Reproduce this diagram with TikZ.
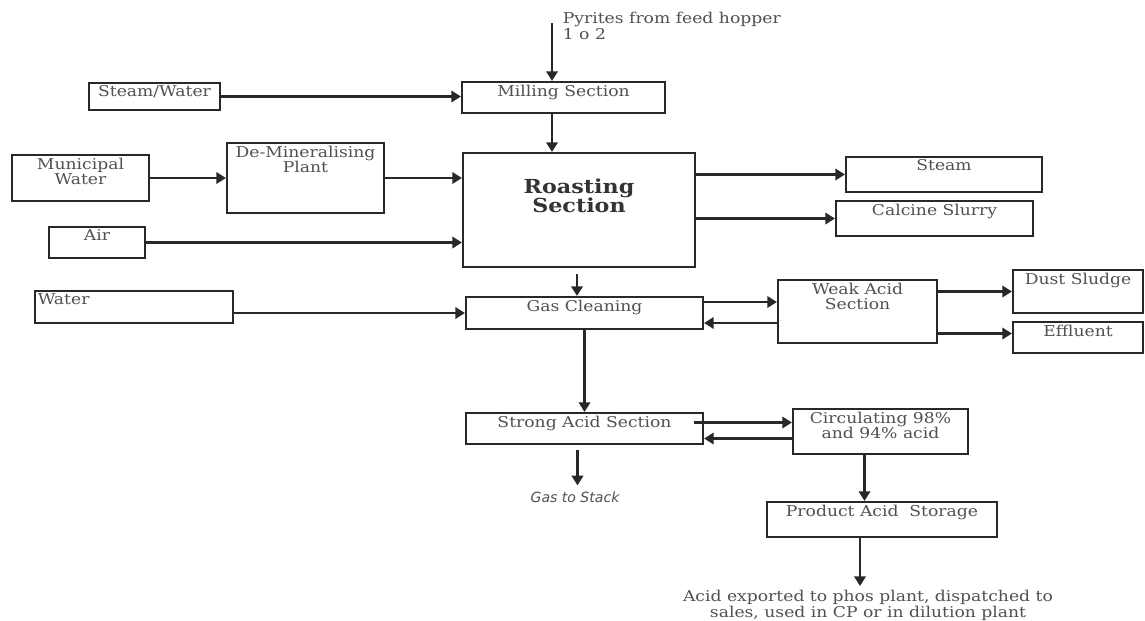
\documentclass[tikz,border=0pt]{standalone}
\usepackage{fontspec}
\setmainfont{DejaVu Serif}[FakeStretch=1.15]
\setsansfont{DejaVu Sans}
\usetikzlibrary{arrows.meta,positioning,calc}
\definecolor{lnc}{RGB}{40,40,40}
\definecolor{txc}{RGB}{80,80,80}
\tikzset{
  blk/.style 2 args={draw=lnc, line width=1.2pt, minimum width=#1*0.02cm,
              minimum height=#2*0.02cm, inner sep=0pt},
  btxt/.style={anchor=north, font=\fontsize{8.5}{9}\selectfont, text=txc,
              align=center, inner sep=2pt},
  rtxt/.style={font=\fontsize{11}{11}\selectfont\bfseries, text=black!80, yshift=-0.45cm},
  ntxt/.style={font=\fontsize{8.5}{9.5}\selectfont, text=txc, inner sep=2pt},
  stxt/.style={font=\fontsize{8}{9}\sffamily\itshape, text=txc},
  flowarr/.style={-{Triangle[length=5.5pt,width=6.5pt]}, lnc, line width=1.3pt},
}
\begin{document}
\begin{tikzpicture}[x=0.02cm, y=-0.02cm]
  \useasboundingbox (0,0) rectangle (1145,620);
  % feed from hopper
  \node[ntxt, anchor=north west, align=left] (pyr) at (559,8) {Pyrites from feed hopper\\1 o 2};
  \coordinate (feed) at (552,23);
  % boxes
  \node[blk={131}{27}, label={[btxt]north:Steam/Water}] (stw) at (154.5,96.5) {};
  \node[blk={203}{31}, label={[btxt]north:Milling Section}] (mill) at (563.5,97.5) {};
  \node[blk={137}{46}, label={[btxt]north:Municipal\\Water}] (mw) at (80.5,178) {};
  \node[blk={157}{70}, label={[btxt]north:De-Mineralising\\Plant}] (dmp) at (305.5,178) {};
  \node[blk={96}{31}, label={[btxt]north:Air}] (air) at (97,242.5) {};
  \node[blk={232}{114}, label={[btxt,rtxt]north:Roasting\\Section}] (roast) at (579,210) {};
  \node[blk={196}{35}, label={[btxt]north:Steam}] (steam) at (944,174.5) {};
  \node[blk={197}{35}, label={[btxt]north:Calcine Slurry}] (calc) at (934.5,218.5) {};
  \node[blk={198}{32}, label={[btxt,anchor=north west]north west:Water}] (water) at (134,307) {};
  \node[blk={237}{32}, label={[btxt]north:Gas Cleaning}] (gc) at (584.5,313) {};
  \node[blk={159}{63}, label={[btxt]north:Weak Acid\\Section}] (wa) at (857.5,311.5) {};
  \node[blk={130}{43}, label={[btxt]north:Dust Sludge}] (dust) at (1078,291.5) {};
  \node[blk={130}{31}, label={[btxt]north:Effluent}] (eff) at (1078,337.5) {};
  \node[blk={237}{31}, label={[btxt]north:Strong Acid Section}] (sas) at (584.5,428.5) {};
  \node[blk={175}{45}, label={[btxt]north:Circulating 98\%\\and 94\% acid}] (circ) at (880.5,431.5) {};
  \node[blk={230}{35}, label={[btxt]north:Product Acid~ Storage}] (pas) at (882,519.5) {};
  \node[stxt] (stack) at (575,497) {Gas to Stack};
  \node[ntxt, anchor=north, align=center] (out) at (868,586)
    {Acid exported to phos plant, dispatched to\\sales, used in CP or in dilution plant};
  % flows
  \draw[flowarr] (feed) -- (feed |- mill.north);
  \draw[flowarr] (stw.east) -- (stw.east -| mill.west);
  \draw[flowarr] (feed |- mill.south) -- (feed |- roast.north);
  \draw[flowarr] (mw.east) -- (dmp.west);
  \draw[flowarr] (dmp.east) -- (dmp.east -| roast.west);
  \draw[flowarr] (air.east) -- (air.east -| roast.west);
  \draw[flowarr] (steam.west -| roast.east) -- (steam.west);
  \draw[flowarr] (calc.west -| roast.east) -- (calc.west);
  \coordinate (rs) at ($(roast.south)+(-2,6)$);
  \draw[flowarr] (rs) -- (rs |- gc.north);
  \draw[flowarr] (gc.west -| water.east) -- (gc.west);
  \coordinate (gcA) at ($(gc.east)+(0,-11)$); \coordinate (gcB) at ($(gc.east)+(0,10)$);
  \draw[flowarr] (gcA) -- (gcA -| wa.west);
  \draw[flowarr] (gcB -| wa.west) -- (gcB);
  \draw[flowarr] (dust.west -| wa.east) -- (dust.west);
  \coordinate (effin) at ($(eff.west)+(0,-4)$);
  \draw[flowarr] (effin -| wa.east) -- (effin);
  \draw[flowarr] (gc.south) -- (sas.north);
  \coordinate (saA) at ($(sas.east)+(-10,-6)$); \coordinate (saB) at ($(sas.east)+(0,10)$);
  \draw[flowarr] (saA) -- (saA -| circ.west);
  \draw[flowarr] (saB -| circ.west) -- (saB);
  \coordinate (ss) at ($(sas.south)+(-7,5)$);
  \draw[flowarr] (ss) -- (ss |- stack.north);
  \coordinate (cs) at ($(circ.south)+(-16,0)$);
  \draw[flowarr] (cs) -- (cs |- pas.north);
  \coordinate (ps) at ($(pas.south)+(-22,0)$);
  \draw[flowarr] (ps) -- (ps |- out.north);
\end{tikzpicture}
\end{document}
